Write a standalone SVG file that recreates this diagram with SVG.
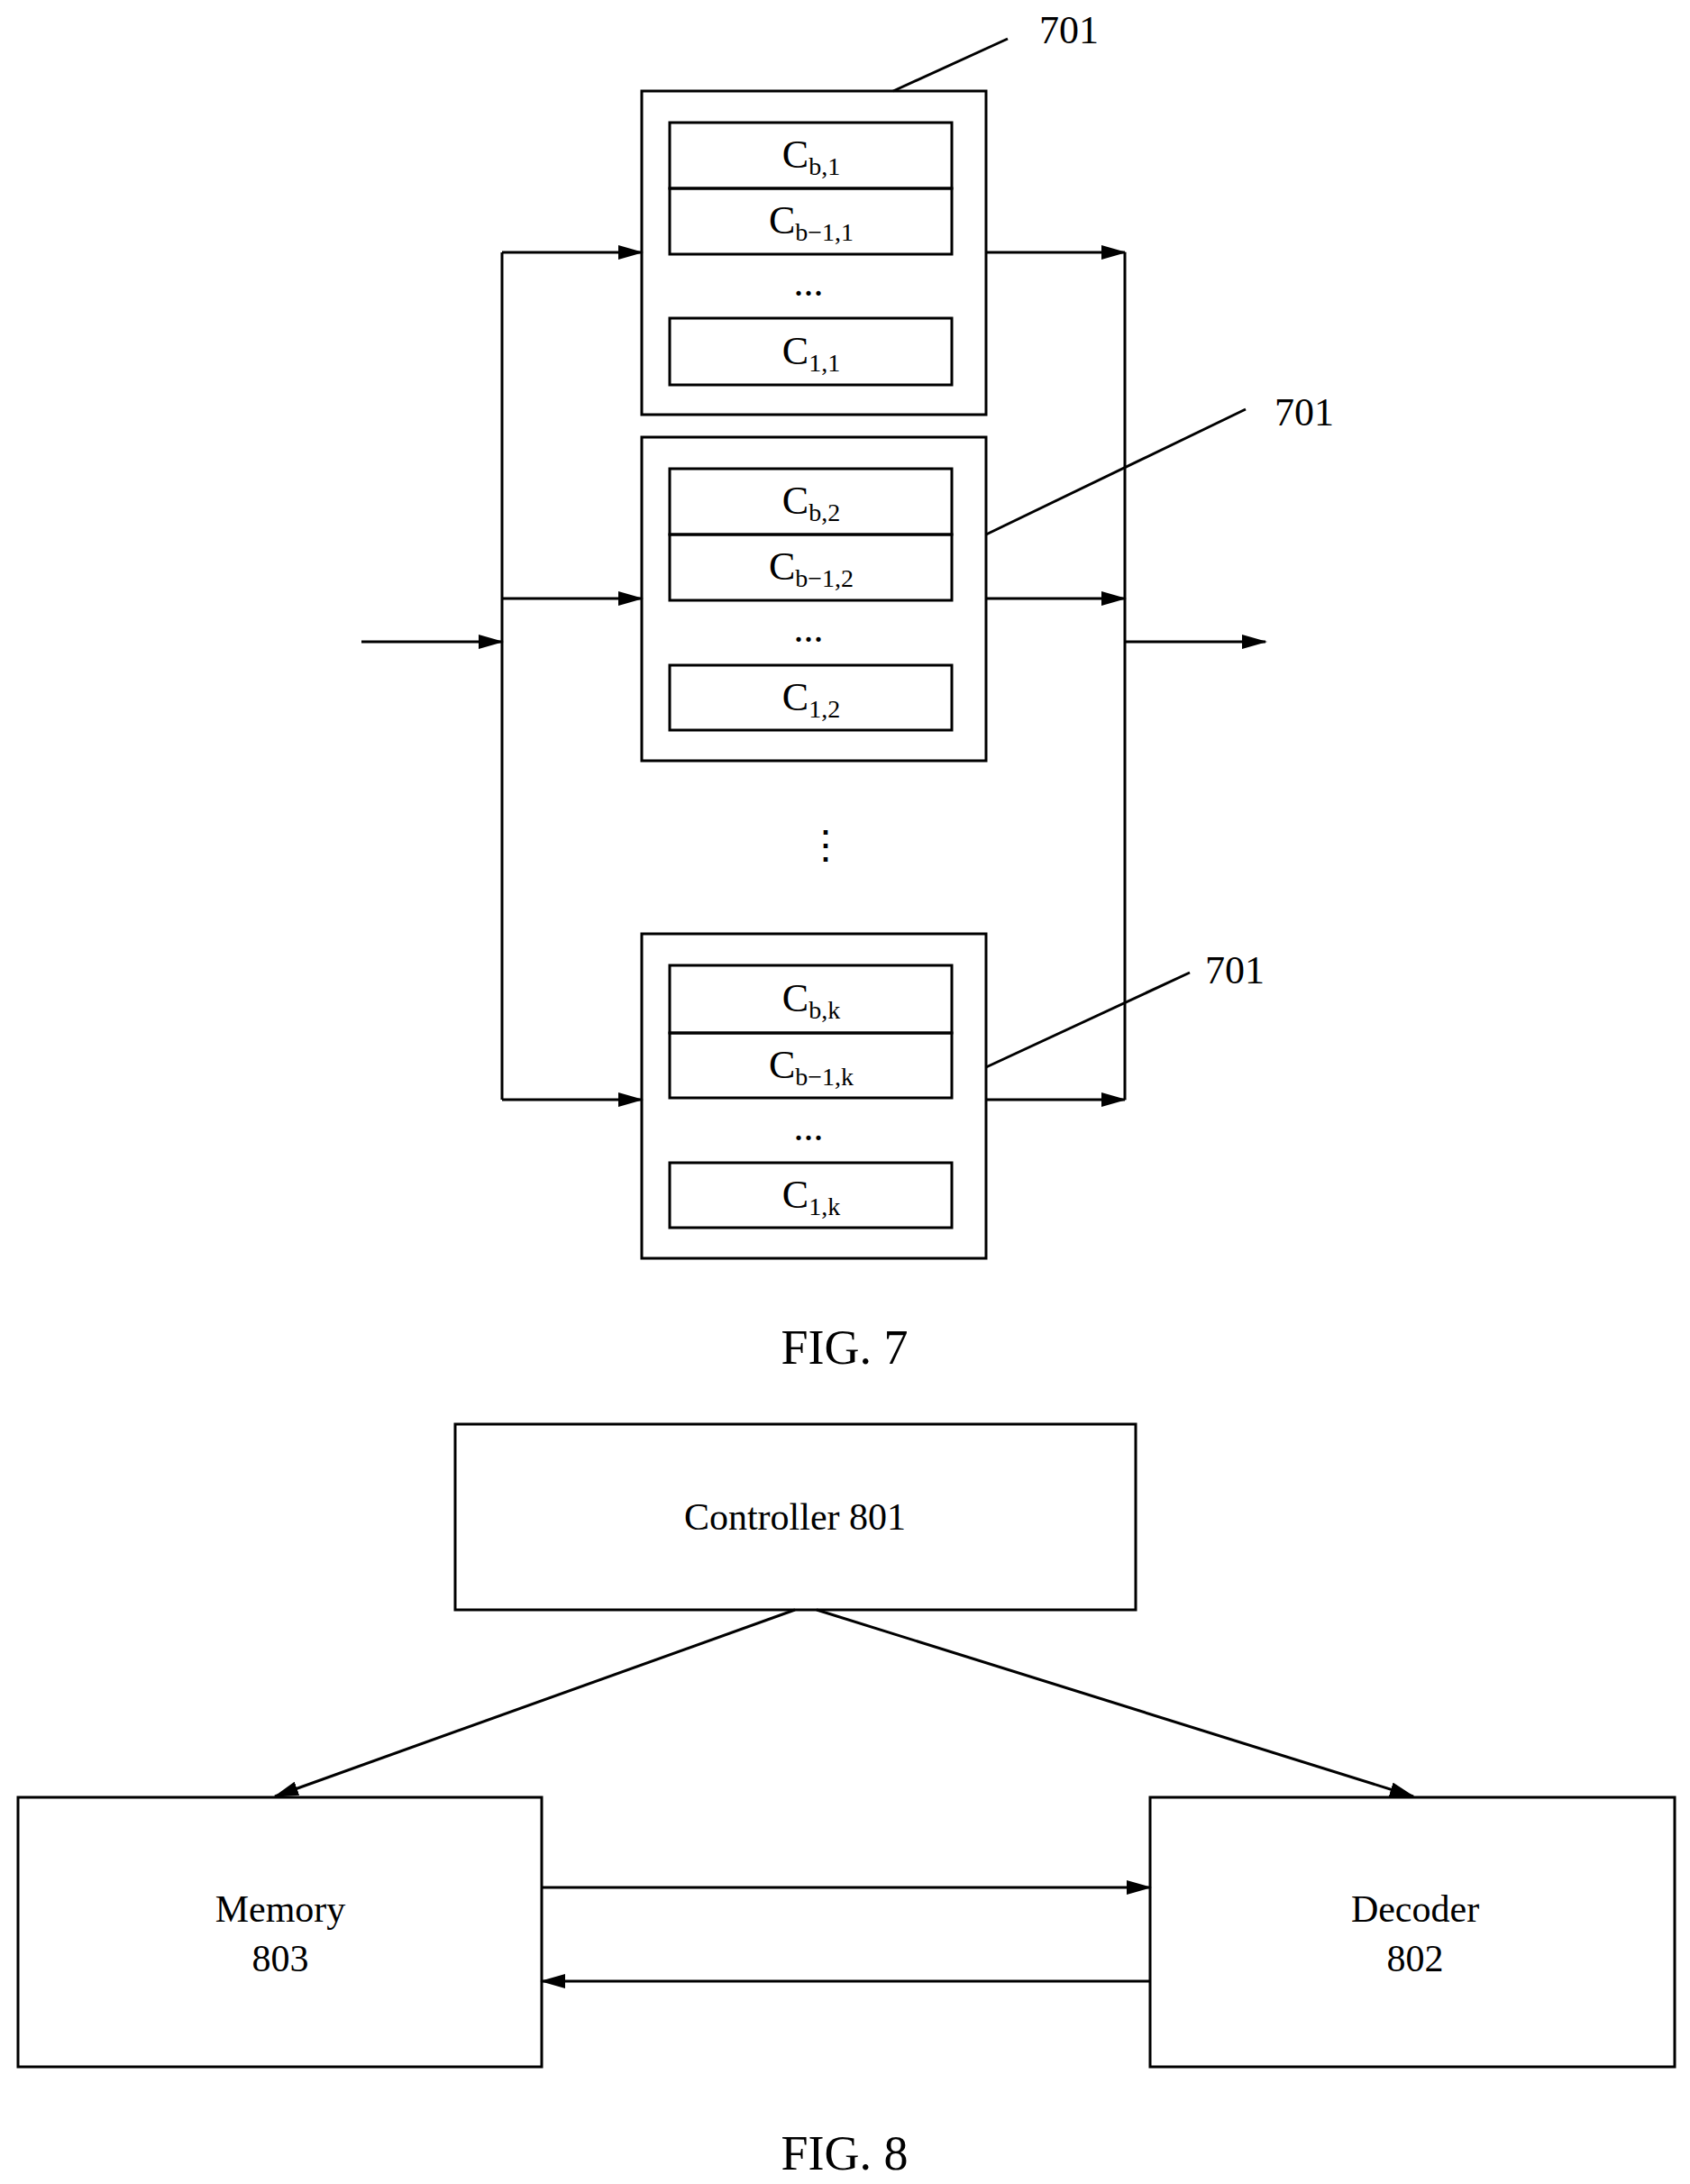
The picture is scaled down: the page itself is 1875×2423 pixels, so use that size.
<svg xmlns="http://www.w3.org/2000/svg" width="1875" height="2423" viewBox="0 0 1875 2423">
<style>
.b{fill:none;stroke:#000;stroke-width:3}
.l{stroke:#000;stroke-width:3;fill:none}
.a{stroke:#000;stroke-width:3;fill:none;marker-end:url(#ar)}
text{font-family:"Liberation Serif",serif;fill:#000}
.c{font-size:44px;text-anchor:middle}
.s{font-size:28px}
.t{font-size:42px;text-anchor:middle}
.f{font-size:54px;text-anchor:middle}
</style>
<defs><marker id="ar" markerWidth="28" markerHeight="16" refX="26" refY="8" orient="auto" markerUnits="userSpaceOnUse"><path d="M0,0 L28,8 L0,16 z" fill="#000"/></marker></defs>
<rect width="1875" height="2423" fill="#fff"/>
<g id="block1"><rect class="b" x="712" y="101" width="382" height="359"/>
<rect class="b" x="743" y="136" width="313" height="73"/><rect class="b" x="743" y="209" width="313" height="73"/><rect class="b" x="743" y="353" width="313" height="74"/>
<text class="c" x="900" y="186">C<tspan class="s" dy="8">b,1</tspan></text>
<text class="c" x="900" y="259">C<tspan class="s" dy="8">b−1,1</tspan></text>
<text class="c" x="897" y="328">...</text>
<text class="c" x="900" y="404">C<tspan class="s" dy="8">1,1</tspan></text></g>
<g id="block2"><rect class="b" x="712" y="485" width="382" height="359"/>
<rect class="b" x="743" y="520" width="313" height="73"/><rect class="b" x="743" y="593" width="313" height="73"/><rect class="b" x="743" y="738" width="313" height="72"/>
<text class="c" x="900" y="570">C<tspan class="s" dy="8">b,2</tspan></text>
<text class="c" x="900" y="643">C<tspan class="s" dy="8">b−1,2</tspan></text>
<text class="c" x="897" y="712">...</text>
<text class="c" x="900" y="788">C<tspan class="s" dy="8">1,2</tspan></text></g>
<g id="block3"><rect class="b" x="712" y="1036" width="382" height="360"/>
<rect class="b" x="743" y="1071" width="313" height="75"/><rect class="b" x="743" y="1146" width="313" height="72"/><rect class="b" x="743" y="1290" width="313" height="72"/>
<text class="c" x="900" y="1122">C<tspan class="s" dy="8">b,k</tspan></text>
<text class="c" x="900" y="1196">C<tspan class="s" dy="8">b−1,k</tspan></text>
<text class="c" x="897" y="1265">...</text>
<text class="c" x="900" y="1340">C<tspan class="s" dy="8">1,k</tspan></text></g>
<text class="c" x="916" y="952">⋮</text>
<g id="labels">
<text class="c" x="1186" y="48">701</text><text class="c" x="1447" y="472">701</text><text class="c" x="1370" y="1091">701</text>
<text class="f" x="937" y="1513">FIG. 7</text><text class="f" x="937" y="2407">FIG. 8</text></g>
<g id="controller"><rect class="b" x="505" y="1580" width="755" height="206"/><text class="t" x="882" y="1697">Controller 801</text></g>
<g id="memory"><rect class="b" x="20" y="1994" width="581" height="299"/><text class="t" x="311" y="2132">Memory</text><text class="t" x="311" y="2187">803</text></g>
<g id="decoder"><rect class="b" x="1276" y="1994" width="582" height="299"/><text class="t" x="1570" y="2132">Decoder</text><text class="t" x="1570" y="2187">802</text></g>
<g id="connectors">
<line class="l" x1="991" y1="101" x2="1118" y2="43"/><line class="l" x1="1094" y1="593" x2="1382" y2="454"/><line class="l" x1="1094" y1="1184" x2="1320" y2="1079"/>
<line class="a" x1="401" y1="712" x2="557" y2="712"/>
<line class="l" x1="557" y1="280" x2="557" y2="1220"/>
<line class="a" x1="557" y1="280" x2="712" y2="280"/><line class="a" x1="557" y1="664" x2="712" y2="664"/><line class="a" x1="557" y1="1220" x2="712" y2="1220"/>
<line class="a" x1="1094" y1="280" x2="1248" y2="280"/><line class="a" x1="1094" y1="664" x2="1248" y2="664"/><line class="a" x1="1094" y1="1220" x2="1248" y2="1220"/>
<line class="l" x1="1248" y1="280" x2="1248" y2="1220"/>
<line class="a" x1="1248" y1="712" x2="1404" y2="712"/>
<line class="a" x1="882" y1="1786" x2="305" y2="1993"/><line class="a" x1="906" y1="1786" x2="1568" y2="1993"/>
<line class="a" x1="601" y1="2094" x2="1276" y2="2094"/><line class="a" x1="1276" y1="2198" x2="601" y2="2198"/>
</g>
</svg>
